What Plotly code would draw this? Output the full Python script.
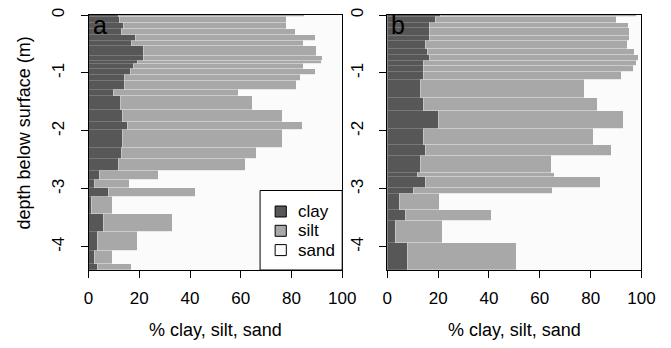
import plotly.graph_objects as go

W, H = 671, 348
TOP, BOTTOM = 15, 270  # plot area in pixels (vertical)

# ---------------- data ----------------
# layer boundaries (depth below surface, m)
a_bounds = [0, 0.03, 0.13, 0.24, 0.345, 0.44, 0.54, 0.70, 0.79, 0.85, 0.94, 1.04,
            1.14, 1.30, 1.39, 1.64, 1.84, 1.99, 2.29, 2.49, 2.69, 2.85, 2.99, 3.14,
            3.44, 3.74, 4.08, 4.29, 4.40]
a_clay = [11.7, 12.1, 13.8, 13.0, 18.4, 16.9, 21.5, 21.8, 19.4, 17.6, 16.6, 14.3,
          14.3, 10.0, 12.6, 13.3, 15.2, 13.3, 12.9, 11.7, 4.5, 2.4, 7.8, 1.3,
          5.9, 3.7, 2.2, 3.4]
a_silt = [73.5, 66.1, 64.4, 68.6, 71.0, 67.8, 68.4, 70.4, 72.4, 67.3, 72.8, 69.2,
          67.9, 49.0, 52.2, 63.2, 69.3, 63.3, 53.5, 50.4, 23.0, 13.8, 34.5, 8.3,
          27.3, 15.7, 7.4, 13.7]

b_bounds = [0, 0.03, 0.13, 0.23, 0.36, 0.455, 0.59, 0.69, 0.79, 0.88, 0.98, 1.12,
            1.44, 1.66, 1.96, 2.245, 2.435, 2.72, 2.80, 2.99, 3.09, 3.37, 3.56,
            3.93, 4.40]
b_clay = [20.7, 19.0, 16.7, 16.7, 16.7, 14.8, 15.6, 16.7, 14.3, 14.1, 14.3, 12.9,
          14.0, 20.1, 14.1, 15.1, 12.8, 11.7, 15.1, 10.4, 4.7, 7.0, 3.0, 7.8]
b_silt = [77.3, 71.1, 78.2, 78.7, 78.6, 79.5, 81.5, 82.0, 83.5, 82.8, 77.8, 64.5,
          68.8, 72.6, 66.8, 73.0, 51.9, 53.9, 68.6, 54.4, 15.9, 34.0, 18.6, 43.0]

x_ticks = [0, 20, 40, 60, 80, 100]
y_ticks = [0, -1, -2, -3, -4]
y_ticktext = ["0", "-1", "-2", "-3", "-4"]
components = ["clay", "silt", "sand"]
panel_labels = ["a", "b"]

# ---------------- style ----------------
colors = {"clay": "#575757", "silt": "#a8a8a8", "sand": "#fbfbfb"}
edges = {"clay": "#7a7a7a", "silt": "#d0d0d0", "sand": "#fbfbfb"}
FONT = "Liberation Sans, Arial, sans-serif"
FS = 17
FT = 18


def px(x):
    return x / W


def py(y):
    # paper y (plot area between margins) from a pixel row
    return (BOTTOM - y) / (BOTTOM - TOP)


panels = [
    dict(bounds=a_bounds, clay=a_clay, silt=a_silt, xa="x", ya="y",
         dom=(86, 347)),
    dict(bounds=b_bounds, clay=b_clay, silt=b_silt, xa="x2", ya="y2",
         dom=(393.5, 655)),
]

fig = go.Figure()
for p in panels:
    b = p["bounds"]
    mids = [-(t + u) / 2 for t, u in zip(b[:-1], b[1:])]
    widths = [u - t for t, u in zip(b[:-1], b[1:])]
    sand = [100 - c - s for c, s in zip(p["clay"], p["silt"])]
    vals = {"clay": p["clay"], "silt": p["silt"], "sand": sand}
    for comp in components:
        fig.add_trace(go.Bar(
            y=mids, x=vals[comp], width=widths, orientation="h",
            name=comp, showlegend=False,
            marker=dict(color=colors[comp], line=dict(color=edges[comp], width=0.7)),
            xaxis=p["xa"], yaxis=p["ya"],
        ))

axis_common = dict(showline=True, linecolor="black", linewidth=1, mirror=True,
                   showgrid=False, zeroline=False, ticks="outside", ticklen=7,
                   tickcolor="black", tickwidth=1,
                   tickfont=dict(family=FONT, size=FS, color="black"))

layout = dict(
    width=W, height=H, autosize=False, barmode="stack", bargap=0,
    margin=dict(l=0, r=0, t=TOP, b=H - BOTTOM),
    plot_bgcolor="white", paper_bgcolor="white",
    font=dict(family=FONT, size=FS, color="black"),
)
for i, p in enumerate(panels):
    sx = "" if i == 0 else "2"
    layout["xaxis" + sx] = dict(axis_common, domain=[px(p["dom"][0]), px(p["dom"][1])],
                                range=[0, 100], tickvals=x_ticks, anchor="y" + sx,
                                ticklabelstandoff=6)
    layout["yaxis" + sx] = dict(axis_common, domain=[0, 1], range=[-4.4, 0],
                                tickvals=y_ticks, ticktext=y_ticktext, tickangle=-90,
                                anchor="x" + sx, ticklabelstandoff=10)
fig.update_layout(**layout)

annotations = []
shapes = []
for i, p in enumerate(panels):
    annotations.append(dict(text=panel_labels[i], x=px(p["dom"][0] + 2), y=py(25),
                            xref="paper", yref="paper", xanchor="left", yanchor="middle",
                            showarrow=False, font=dict(family=FONT, size=25)))
    annotations.append(dict(text="% clay, silt, sand", x=px((p["dom"][0] + p["dom"][1]) / 2),
                            y=py(330), xref="paper", yref="paper", xanchor="center",
                            yanchor="middle", showarrow=False,
                            font=dict(family=FONT, size=FT)))
annotations.append(dict(text="depth below surface (m)", x=px(20), y=py(133), xref="paper",
                        yref="paper", textangle=-90, showarrow=False,
                        xanchor="center", yanchor="middle",
                        font=dict(family=FONT, size=FT)))

# legend box (panel a)
shapes.append(dict(type="rect", xref="paper", yref="paper", x0=px(262.5), x1=px(347),
                   y0=py(270), y1=py(190.5), fillcolor="white",
                   line=dict(color="black", width=1), layer="above"))
for k, comp in enumerate(components):
    yc = 211.5 + k * 19.3
    shapes.append(dict(type="rect", xref="paper", yref="paper", x0=px(278), x1=px(289.5),
                       y0=py(yc + 5.5), y1=py(yc - 5.5), fillcolor=colors[comp],
                       line=dict(color="black", width=1), layer="above"))
    annotations.append(dict(text=comp, x=px(299), y=py(yc), xref="paper", yref="paper",
                            xanchor="left", yanchor="middle", showarrow=False,
                            font=dict(family=FONT, size=FS)))

fig.update_layout(annotations=annotations, shapes=shapes)
fig.write_html("out.html")
